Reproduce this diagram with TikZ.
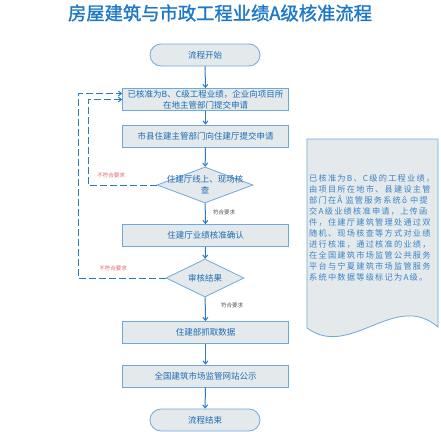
\documentclass[tikz,border=0pt]{standalone}
\usepackage{fontspec}
\setmainfont{Noto Sans CJK SC}
\newfontfamily\titlefont{Noto Sans CJK SC}[FakeBold=1.5]
\newfontfamily\notefont{Noto Sans CJK SC}[LetterSpace=15]
\usetikzlibrary{shapes.geometric,arrows.meta}
\definecolor{bordc}{HTML}{6FA8DC}
\definecolor{fillc}{HTML}{E4EAEC}
\definecolor{txtc}{HTML}{1B6AB5}
\definecolor{arrc}{HTML}{2A7BC4}
\definecolor{titc}{HTML}{1E78C8}
\definecolor{notec}{HTML}{3C83C6}
\definecolor{redc}{HTML}{E06666}
\definecolor{grayc}{HTML}{555555}
\begin{document}
\begin{tikzpicture}[x=1pt,y=-1pt,
  box/.style={draw=bordc, fill=fillc, line width=0.8pt, minimum width=166pt, minimum height=22pt, inner sep=1pt, font=\fontsize{8.5}{11}\selectfont, text=txtc, align=center},
  pill/.style={draw=bordc, fill=fillc, line width=0.8pt, rounded corners=11pt, minimum width=110pt, minimum height=22pt, font=\fontsize{8.5}{11}\selectfont, text=txtc},
  dia/.style={draw=bordc, fill=fillc, line width=0.8pt, shape=diamond, inner sep=0pt},
  dtext/.style={font=\fontsize{8.5}{11}\selectfont, text=txtc, align=center},
  arr/.style={draw=arrc, line width=1pt, -{Straight Barb[length=3pt,width=5pt]}},
  darr/.style={arr, dash pattern=on 7pt off 3pt},
  redlab/.style={font=\fontsize{5.5}{6}\selectfont, text=redc, inner sep=0pt},
  graylab/.style={font=\fontsize{5.5}{6}\selectfont, text=grayc, inner sep=0pt},
  notebox/.style={draw=bordc, fill=fillc, line width=0.8pt},
  noteline/.style={anchor=west, inner sep=0pt, font=\notefont\fontsize{8.2}{10}\selectfont, text=notec}
]
\useasboundingbox (0,0) rectangle (441,431);
\node[font=\titlefont\fontsize{18.3}{20}\selectfont, text=titc] (title) at (220,13) {房屋建筑与市政工程业绩A级核准流程};

\node[pill] (start) at (205,55) {流程开始};
\node[box] (b1) at (205.5,99.5) {已核准为B、C级工程业绩，企业向项目所\\在地主管部门提交申请};
\node[box] (b2) at (205.5,136) {市县住建主管部门向住建厅提交申请};
\node[dia, minimum width=96pt, minimum height=36pt] (d1) at (205,185) {};
\node[dtext] (d1t) at (205,185) {住建厅线上、现场核\\查};
\node[box] (b3) at (205.5,235.5) {住建厅业绩核准确认};
\node[dia, minimum width=78pt, minimum height=38pt] (d2) at (205,278) {};
\node[dtext] (d2t) at (205,278) {审核结果};
\node[box] (b4) at (205.5,332.5) {住建部抓取数据};
\node[box] (b5) at (205.5,376) {全国建筑市场监管网站公示};
\node[pill] (end) at (205,420) {流程结束};

\draw[arr] (start) -- (b1);
\draw[arr] (b1) -- (b2);
\draw[arr] (b2) -- (d1);
\draw[arr] (d1) -- (b3);
\draw[arr] (b3) -- (d2);
\draw[arr] (d2) -- (b4);
\draw[arr] (b4) -- (b5);
\draw[arr] (b5) -- (end);

\coordinate (k1) at (88,185);
\coordinate (k2) at (78,278);
\draw[darr] (d1.west) -- (k1) |- (b1.west);
\draw[darr] (d2.west) -- (k2) |- ([yshift=6pt]b1.west);

\node[redlab] (l1) at (111,175) {不符合要求};
\node[redlab] (l2) at (113,268) {不符合要求};
\node[graylab] (l3) at (224,212) {符合要求};
\node[graylab] (l4) at (232,305) {符合要求};

\draw[notebox] (307,139) -- (438,139) -- (438,327)
  .. controls (395,290) and (350,360) .. (307,328) -- cycle;
\node[noteline] (n1) at (309,178) {已核准为B、C级的工程业绩，};
\node[noteline] (n2) at (309,189) {由项目所在地市、县建设主管};
\node[noteline] (n3) at (309,200) {部门在Â 监管服务系统ô 中提};
\node[noteline] (n4) at (309,211) {交A级业绩核准申请，上传函};
\node[noteline] (n5) at (309,222) {件，住建厅建筑管理处通过双};
\node[noteline] (n6) at (309,233) {随机、现场核查等方式对业绩};
\node[noteline] (n7) at (309,244) {进行核准，通过核准的业绩，};
\node[noteline] (n8) at (309,255) {在全国建筑市场监管公共服务};
\node[noteline] (n9) at (309,266) {平台与宁夏建筑市场监管服务};
\node[noteline] (n10) at (309,277) {系统中数据等级标记为A级。};
\end{tikzpicture}
\end{document}
